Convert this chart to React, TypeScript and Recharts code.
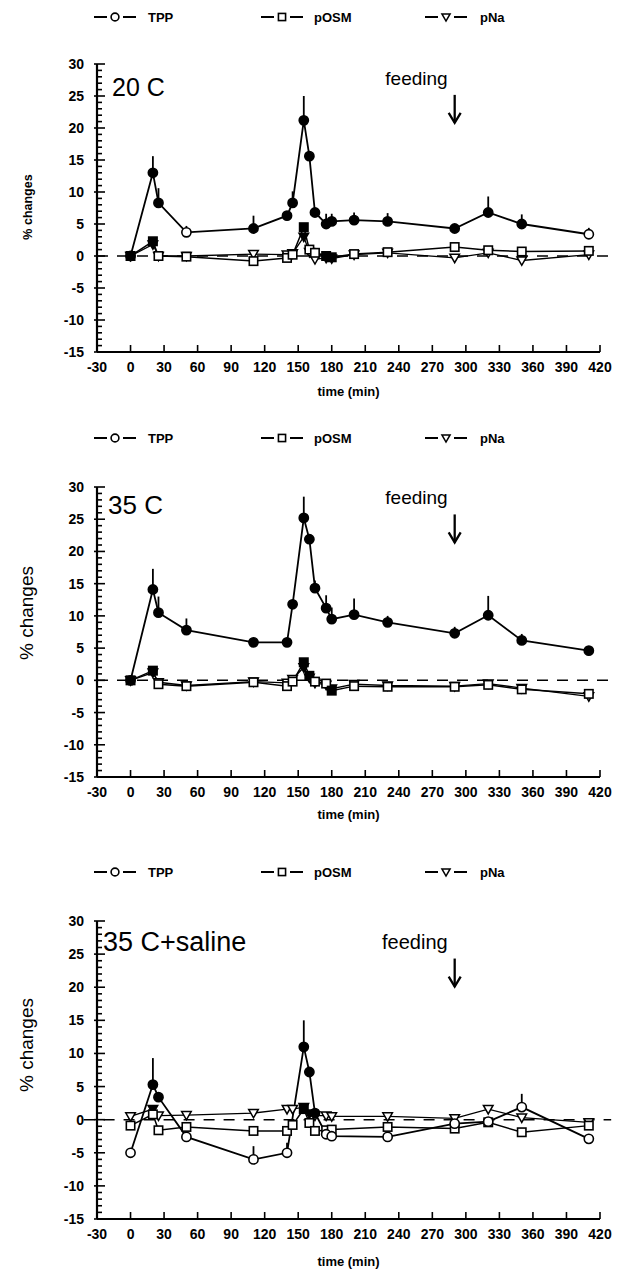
import React from "react";
import { LineChart, Line, XAxis, YAxis, ErrorBar, ReferenceLine, ReferenceDot } from "recharts";

// sampling times (min), shared by the three panels
const times = [0, 20, 25, 50, 110, 140, 145, 155, 160, 165, 175, 180, 200, 230, 290, 320, 350, 410];
const xTicks = [-30, 0, 30, 60, 90, 120, 150, 180, 210, 240, 270, 300, 330, 360, 390, 420];
const yMajorTicks = [-15, -10, -5, 0, 5, 10, 15, 20, 25, 30];
const feedingTime = 290;

// 20 C
const tpp20 = [0, 13.0, 8.3, 3.7, 4.3, 6.3, 8.3, 21.2, 15.6, 6.8, 5.0, 5.4, 5.6, 5.4, 4.3, 6.8, 5.0, 3.4];
const tpp20Err = [0, 2.6, 2.3, 1.0, 2.0, 0, 1.8, 3.8, 0, 0.6, 1.6, 1.2, 1.2, 1.3, 0.3, 2.5, 1.5, 1.0];
const tpp20Filled = [1, 1, 1, 0, 1, 1, 1, 1, 1, 1, 1, 1, 1, 1, 1, 1, 1, 0];
const osm20 = [0, 2.3, 0, -0.1, -0.8, -0.3, 0.2, 4.5, 1.0, 0.5, 0, -0.2, 0.3, 0.6, 1.4, 0.9, 0.7, 0.8];
const osm20Filled = [1, 1, 0, 0, 0, 0, 0, 1, 0, 0, 1, 1, 0, 0, 0, 0, 0, 0];
const na20 = [0, 1.8, 0, 0, 0.3, 0.2, 0.4, 3.0, 0.6, -0.5, -0.3, -0.4, 0.2, 0.5, -0.3, 0.5, -0.7, 0.2];
const na20Filled = [1, 1, 0, 0, 0, 0, 0, 1, 0, 0, 0, 0, 0, 0, 0, 0, 0, 0];

// 35 C
const tpp35 = [0, 14.1, 10.5, 7.8, 5.9, 5.9, 11.8, 25.2, 21.9, 14.3, 11.2, 9.5, 10.2, 9.0, 7.3, 10.1, 6.2, 4.6];
const tpp35Err = [0, 3.2, 2.5, 1.8, 0, 0, 0, 3.3, 0, 1.2, 2.0, 1.8, 2.5, 1.0, 1.0, 3.0, 1.0, 0.4];
const tpp35Filled = [1, 1, 1, 1, 1, 1, 1, 1, 1, 1, 1, 1, 1, 1, 1, 1, 1, 1];
const osm35 = [0, 1.5, -0.6, -0.9, -0.3, -0.9, -0.2, 2.8, 0.7, -0.2, -0.5, -1.6, -0.9, -1.0, -1.0, -0.7, -1.4, -2.1];
const osm35Filled = [1, 1, 0, 0, 0, 0, 0, 1, 1, 0, 0, 1, 0, 0, 0, 0, 0, 0];
const na35 = [0, 1.2, -0.3, -0.8, -0.2, -0.4, 0.2, 2.0, 0.4, -0.4, -0.7, -1.3, -0.6, -0.8, -0.9, -0.5, -1.2, -2.5];
const na35Filled = [1, 1, 0, 0, 0, 0, 0, 1, 0, 0, 0, 1, 0, 0, 0, 0, 0, 0];

// 35 C + saline
const tppSal = [-5.0, 5.3, 3.4, -2.6, -6.0, -5.0, null, 11.0, 7.2, 1.0, -2.2, -2.5, null, -2.6, -0.6, -0.3, 1.9, -2.9];
const tppSalErr = [0, 4.0, 0, 0, 2.0, 1.5, 0, 4.0, 0, 0, 0, 0, 0, 0, 0, 0, 2.0, 0];
const tppSalFilled = [0, 1, 1, 0, 0, 0, 0, 1, 1, 1, 0, 0, 0, 0, 0, 0, 0, 0];
const osmSal = [-0.9, 0.8, -1.6, -1.1, -1.7, -1.7, -0.8, 1.6, -0.5, -1.7, -1.6, -1.5, null, -1.1, -1.35, -0.4, -1.9, -0.9];
const osmSalFilled = [0, 0, 0, 0, 0, 0, 0, 1, 0, 0, 0, 0, 0, 0, 0, 0, 0, 0];
const naSal = [0.5, 1.6, 0.6, 0.7, 1.0, 1.6, 1.6, 1.9, 0.9, 0.6, 0.6, 0.5, null, 0.5, 0.2, 1.6, 0.3, -0.4];
const naSalFilled = [0, 1, 0, 0, 0, 0, 0, 1, 1, 0, 0, 0, 0, 0, 0, 0, 0, 0];

const FONT = "'Liberation Sans', Arial, Helvetica, sans-serif";
const yAllTicks = Array.from({ length: 46 }, (_, i) => i - 15);

const buildRows = (
  tpp: (number | null)[], tppErr: number[], tppF: number[],
  osm: (number | null)[], osmF: number[],
  na: (number | null)[], naF: number[]
) =>
  times.map((t, i) => ({
    t,
    tpp: tpp[i],
    tppErr: [0, tppErr[i]],
    tppF: tppF[i],
    osm: osm[i],
    osmF: osmF[i],
    na: na[i],
    naF: naF[i],
  }));

const Marker = ({ kind, cx, cy, filled, s = 1 }: any) => {
  const fill = filled ? "#000" : "#fff";
  if (kind === "circle")
    return <circle cx={cx} cy={cy} r={4.6 * s} fill={fill} stroke="#000" strokeWidth={1.6} />;
  if (kind === "square") {
    const h = 4.2 * s;
    return <rect x={cx - h} y={cy - h} width={2 * h} height={2 * h} fill={fill} stroke="#000" strokeWidth={1.6} />;
  }
  const w = 4.8 * s;
  return (
    <polygon
      points={`${cx - w},${cy - w * 0.75} ${cx + w},${cy - w * 0.75} ${cx},${cy + w}`}
      fill={fill}
      stroke="#000"
      strokeWidth={1.5}
    />
  );
};

const dotFor = (kind: string, flag: string) => (p: any) => {
  if (p.cy == null || p.value == null) return <g key={p.index} />;
  return <Marker key={p.index} kind={kind} cx={p.cx} cy={p.cy} filled={!!p.payload[flag]} />;
};

const YTick = ({ x, y, payload }: any) => {
  const major = yMajorTicks.includes(payload.value);
  return (
    <g>
      <line x1={major ? x - 3 : x} x2={x + (major ? 8 : 5)} y1={y} y2={y} stroke="#000" strokeWidth={1.6} />
      {major && (
        <text x={x - 13} y={y} dy="0.36em" textAnchor="end" fontSize={14} fontWeight="bold" fontFamily={FONT} fill="#000">
          {payload.value}
        </text>
      )}
    </g>
  );
};

const XTick = ({ x, y, payload }: any) => (
  <g>
    <line x1={x} x2={x} y1={y} y2={y - 7} stroke="#000" strokeWidth={1.6} />
    <text x={x} y={y + 20} textAnchor="middle" fontSize={14} fontWeight="bold" fontFamily={FONT} fill="#000">
      {payload.value}
    </text>
  </g>
);

const FeedingMark = ({ cx, cy, fontSize }: any) => (
  <g>
    <text x={cx - 7} y={cy - 38} textAnchor="end" fontSize={fontSize} fontFamily={FONT} fill="#000">
      feeding
    </text>
    <line x1={cx} x2={cx} y1={cy - 28} y2={cy} stroke="#000" strokeWidth={2.3} />
    <polyline points={`${cx - 6},${cy - 10} ${cx},${cy} ${cx + 6},${cy - 10}`} fill="none" stroke="#000" strokeWidth={2.3} />
  </g>
);

const Legend3 = ({ y }: { y: number }) => {
  const items = [
    { kind: "circle", cx: 115, tx: 148, label: "TPP" },
    { kind: "square", cx: 282, tx: 314, label: "pOSM" },
    { kind: "tri", cx: 446, tx: 480, label: "pNa" },
  ];
  return (
    <g>
      {items.map((it) => (
        <g key={it.label}>
          <line x1={it.cx - 21} x2={it.cx - 8} y1={y} y2={y} stroke="#000" strokeWidth={2} />
          <line x1={it.cx + 8} x2={it.cx + 21} y1={y} y2={y} stroke="#000" strokeWidth={2} />
          <Marker kind={it.kind} cx={it.cx} cy={y} filled={false} s={0.85} />
          <text x={it.tx} y={y} dy="0.36em" fontSize={13} fontWeight="bold" fontFamily={FONT} fill="#000">
            {it.label}
          </text>
        </g>
      ))}
    </g>
  );
};

type PanelDef = {
  top: number;
  height: number;
  plotTop: number;
  plotBottom: number;
  xLabelY: number;
  rows: any[];
  feedingTip: number;
  feedingSize: number;
  zeroFrom?: number;
};

const Panel = ({ top, height, plotTop, plotBottom, xLabelY, rows, feedingTip, feedingSize, zeroFrom = -30 }: PanelDef) => {
  const xAxisH = xLabelY + 4 - plotBottom;
  const margin = { top: plotTop - top, right: 19, left: 37, bottom: top + height - plotBottom - xAxisH };
  return (
    <div style={{ position: "absolute", left: 0, top, width: 619, height }}>
      <LineChart width={619} height={height} data={rows} margin={margin}>
        <XAxis
          dataKey="t"
          type="number"
          domain={[-30, 420]}
          ticks={xTicks}
          interval={0}
          tickSize={0}
          tickMargin={0}
          tickLine={false}
          axisLine={{ stroke: "#000", strokeWidth: 2.2 }}
          tick={(p: any) => <XTick {...p} />}
          height={xAxisH}
          label={{ value: "time (min)", position: "insideBottom", offset: 0, fontSize: 13, fontWeight: "bold", fontFamily: FONT, fill: "#000" }}
        />
        <YAxis
          type="number"
          domain={[-15, 30]}
          ticks={yAllTicks}
          interval={0}
          tickSize={0}
          tickMargin={0}
          tickLine={false}
          axisLine={{ stroke: "#000", strokeWidth: 2.2 }}
          tick={(p: any) => <YTick {...p} />}
          width={60}
        />
        <ReferenceLine
          segment={[{ x: zeroFrom, y: 0 }, { x: 430, y: 0 }]}
          ifOverflow="visible"
          stroke="#000"
          strokeWidth={1.5}
          strokeDasharray="11 9"
        />
        <Line dataKey="na" stroke="#000" strokeWidth={1.3} connectNulls dot={dotFor("tri", "naF")} activeDot={false} isAnimationActive={false} />
        <Line dataKey="osm" stroke="#000" strokeWidth={1.5} connectNulls dot={dotFor("square", "osmF")} activeDot={false} isAnimationActive={false} />
        <Line dataKey="tpp" stroke="#000" strokeWidth={1.8} connectNulls dot={dotFor("circle", "tppF")} activeDot={false} isAnimationActive={false}>
          <ErrorBar dataKey="tppErr" direction="y" width={0} stroke="#000" strokeWidth={1.8} isAnimationActive={false} />
        </Line>
        <ReferenceDot
          x={feedingTime}
          y={feedingTip}
          ifOverflow="visible"
          shape={(p: any) => <FeedingMark cx={p.cx} cy={p.cy} fontSize={feedingSize} />}
        />
      </LineChart>
    </div>
  );
};

const rows20 = buildRows(tpp20, tpp20Err, tpp20Filled, osm20, osm20Filled, na20, na20Filled);
const rows35 = buildRows(tpp35, tpp35Err, tpp35Filled, osm35, osm35Filled, na35, na35Filled);
const rowsSal = buildRows(tppSal, tppSalErr, tppSalFilled, osmSal, osmSalFilled, naSal, naSalFilled);

export default function App() {
  return (
    <div style={{ position: "absolute", left: 0, top: 0, width: 619, height: 1282, background: "#fff" }}>
      <Panel top={0} height={410} plotTop={64} plotBottom={352} xLabelY={392} rows={rows20} feedingTip={20.8} feedingSize={19} />
      <Panel top={420} height={410} plotTop={487} plotBottom={777} xLabelY={815} rows={rows35} feedingTip={21.4} feedingSize={19} />
      <Panel top={840} height={440} plotTop={921} plotBottom={1219} xLabelY={1262} rows={rowsSal} feedingTip={20.1} feedingSize={20} zeroFrom={-42} />
      <svg width={619} height={1282} style={{ position: "absolute", left: 0, top: 0, pointerEvents: "none" }}>
        <Legend3 y={17} />
        <Legend3 y={438} />
        <Legend3 y={872} />
        <text x={112} y={96} fontSize={25} fontFamily={FONT} fill="#000">20 C</text>
        <text x={108} y={514} fontSize={26} fontFamily={FONT} fill="#000">35 C</text>
        <text x={103} y={951} fontSize={27} fontFamily={FONT} fill="#000">35 C+saline</text>
        <text transform="translate(32,207) rotate(-90)" textAnchor="middle" fontSize={12.5} fontWeight="bold" fontFamily={FONT} fill="#000">% changes</text>
        <text transform="translate(33,613) rotate(-90)" textAnchor="middle" fontSize={19} fontFamily={FONT} fill="#000">% changes</text>
        <text transform="translate(33,1045) rotate(-90)" textAnchor="middle" fontSize={19} fontFamily={FONT} fill="#000">% changes</text>
      </svg>
    </div>
  );
}
